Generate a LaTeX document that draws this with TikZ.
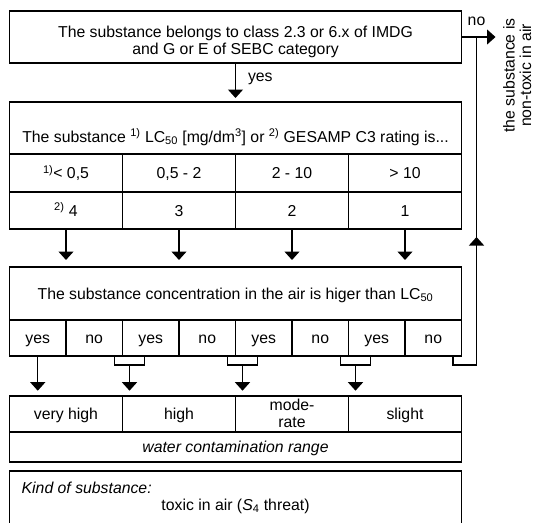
\documentclass[tikz,border=0pt]{standalone}
\usepackage{fontspec}
\setmainfont{Liberation Sans}
\usetikzlibrary{arrows.meta,calc}
\begin{document}
\begin{tikzpicture}[x=1pt,y=-1pt,line width=1.2pt,
  font=\fontsize{15.8pt}{16.7pt}\selectfont,
  cellbox/.style={draw,inner sep=0pt,outer sep=0pt,text height=11.3pt,text depth=0pt},
  wide/.style={minimum width=452pt},
  quarter/.style={minimum width=113pt},
  eighth/.style={minimum width=56.5pt},
  txt/.style={inner sep=0pt,outer sep=0pt,anchor=base},
  arr/.style={-{Triangle[width=15pt,length=8.5pt]}}]
\useasboundingbox (0,0) rectangle (534,522);

% top decision box
\node[cellbox,wide,minimum height=52pt] (top) at (235.5,37) {};
\node[txt] (topl1) at (235.5,37.7) {The substance belongs to class 2.3 or 6.x of IMDG};
\node[txt] (topl2) at (235.5,54.3) {and G or E of SEBC category};

% criteria box
\node[cellbox,wide,minimum height=52pt] (crit) at (235.5,128) {};
\node[txt] (critt) at (235.5,142) {The substance \textsuperscript{1)} LC\textsubscript{50} [mg/dm\textsuperscript{3}] or \textsuperscript{2)} GESAMP C3 rating is...};
\node[cellbox,quarter,minimum height=38pt] (r1) at (66,173) {\textsuperscript{1)}< 0,5};
\node[cellbox,quarter,minimum height=38pt] (r2) at (179,173) {0,5 - 2};
\node[cellbox,quarter,minimum height=38pt] (r3) at (292,173) {2 - 10};
\node[cellbox,quarter,minimum height=38pt] (r4) at (405,173) {> 10};
\node[cellbox,quarter,minimum height=37pt] (g1) at (66,210.5) {\textsuperscript{2)} 4};
\node[cellbox,quarter,minimum height=37pt] (g2) at (179,210.5) {3};
\node[cellbox,quarter,minimum height=37pt] (g3) at (292,210.5) {2};
\node[cellbox,quarter,minimum height=37pt] (g4) at (405,210.5) {1};

% concentration box
\node[cellbox,wide,minimum height=53pt] (conc) at (235.5,293.5) {The substance concentration in the air is higer than LC\textsubscript{50}};
\node[cellbox,eighth,minimum height=36pt] (c1) at (37.75,338) {yes};
\node[cellbox,eighth,minimum height=36pt] (c2) at (94.25,338) {no};
\node[cellbox,eighth,minimum height=36pt] (c3) at (150.75,338) {yes};
\node[cellbox,eighth,minimum height=36pt] (c4) at (207.25,338) {no};
\node[cellbox,eighth,minimum height=36pt] (c5) at (263.75,338) {yes};
\node[cellbox,eighth,minimum height=36pt] (c6) at (320.25,338) {no};
\node[cellbox,eighth,minimum height=36pt] (c7) at (376.75,338) {yes};
\node[cellbox,eighth,minimum height=36pt] (c8) at (433.25,338) {no};

% level box
\node[cellbox,quarter,minimum height=36pt] (l1) at (66,414) {very high};
\node[cellbox,quarter,minimum height=36pt] (l2) at (179,414) {high};
\node[cellbox,quarter,minimum height=36pt] (l3) at (292,414) {};
\node[txt] (l3a) at (292,410) {mode-};
\node[txt] (l3b) at (292,427.7) {rate};
\node[cellbox,quarter,minimum height=36pt] (l4) at (405,414) {slight};
\node[cellbox,wide,minimum height=30pt] (water) at (235.5,447) {\itshape water contamination range};

% kind box
\node[draw,inner sep=0pt,outer sep=0pt,wide,minimum height=90pt] (kind) at (235.5,516) {};
\node[txt,anchor=base west] (kindl) at (21.7,493.3) {\itshape Kind of substance:};
\node[txt] (kindt) at (235.5,510) {toxic in air (\textit{S}\textsubscript{4} threat)};

% right side text
\node[txt,rotate=90] (nt1) at (514.5,75.5) {the substance is};
\node[txt,rotate=90] (nt2) at (531,75.5) {non-toxic in air};

% connectors
\draw[arr,shorten >=4pt] (top.south) -- (crit.north);
\node[txt,anchor=base west] (yeslbl) at (248,81) {yes};

\coordinate (junc) at ($(top.east)+(15,0)$);
\coordinate (noend) at ($(top.east)+(34,0)$);
\draw[arr] (top.east) -- (noend);
\node[txt] (nolbl) at (476.5,25) {no};

\foreach \r in {g1,g2,g3,g4}
  \draw[arr,shorten >=7pt] (\r.south) -- (\r.south |- conc.north);

\draw[arr,shorten >=5.3pt] (c1.south) -- (c1.south |- l1.north);
\foreach \c in {c2,c4,c6}{
  \draw ($(\c.south east)+(-8,0)$) -- ++(0,9) -| ($(\c.south east)+(22,0)$);
  \draw[arr,shorten >=5.3pt] ($(\c.south east)+(7,9)$) -- ($(\c.south east |- l1.north)+(7,0)$);
}

\coordinate (rb) at ($(c8.south east)+(-8.5,0)$);
\coordinate (rbot) at ($(rb)+(0,9)$);
\coordinate (rettip) at ($(junc)+(0,200)$);
\draw (rb) -- (rbot) -| (junc);
\draw[arr] (rbot -| junc) -- (rettip);
\end{tikzpicture}
\end{document}
